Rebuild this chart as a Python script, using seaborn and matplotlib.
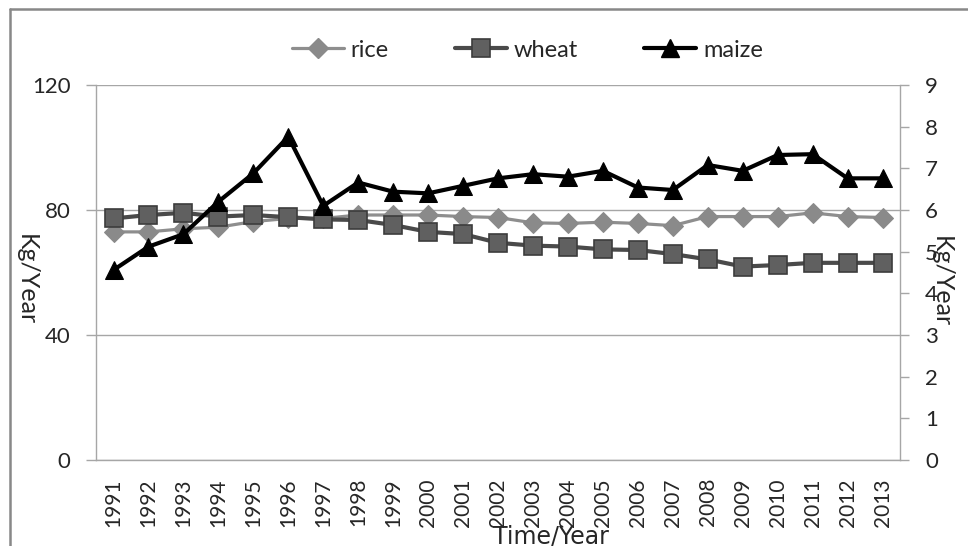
import numpy as np
import pandas as pd
import seaborn as sns
import matplotlib.pyplot as plt
from matplotlib.lines import Line2D

# values (rice, wheat on left axis; maize on right axis)
years = list(range(1991, 2014))
rice = [73, 73, 74, 74.5, 76.3, 77.3, 77.3, 78.4, 78.4, 78.4, 77.9, 77.6,
        75.9, 75.7, 76.1, 75.7, 75, 77.9, 77.9, 77.9, 79.1, 77.9, 77.6]
wheat = [77.3, 78.4, 79.1, 77.9, 78.4, 77.7, 77, 76.8, 75.2, 73, 72.3, 69.5,
         68.6, 68.3, 67.4, 67.2, 65.9, 64.2, 61.9, 62.4, 63.1, 63.1, 63.1]
maize = [4.56, 5.12, 5.42, 6.2, 6.88, 7.76, 6.1, 6.66, 6.44, 6.4, 6.58, 6.76,
         6.86, 6.8, 6.94, 6.54, 6.48, 7.08, 6.94, 7.32, 7.34, 6.76, 6.76]
left_ticks = [0, 40, 80, 120]
right_ticks = list(range(0, 10))

df = pd.DataFrame({'year': years, 'rice': rice, 'wheat': wheat, 'maize': maize})

sns.set_style('white')
plt.rcParams['font.family'] = ['Lato', 'DejaVu Sans']

grey = '#a6a6a6'
fig = plt.figure(figsize=(9.68, 5.46), dpi=100)
ax = fig.add_axes([0.0992, 0.1575, 0.8306, 0.6868])

rice_style = dict(color='#8e8e8e', linewidth=2.3, marker='D', markersize=10.5,
                  markerfacecolor='#8a8a8a', markeredgecolor='#8a8a8a')
wheat_style = dict(color='#4a4a4a', linewidth=3, marker='s', markersize=13,
                   markerfacecolor='#606060', markeredgecolor='#3c3c3c', markeredgewidth=1.2)
maize_style = dict(color='black', linewidth=3, marker='^', markersize=13.5,
                   markerfacecolor='black', markeredgecolor='black')

sns.lineplot(data=df, x='year', y='rice', ax=ax, **rice_style)
sns.lineplot(data=df, x='year', y='wheat', ax=ax, **wheat_style)

ax2 = ax.twinx()
sns.lineplot(data=df, x='year', y='maize', ax=ax2, **maize_style)

# left axis
ax.set_ylim(0, 120)
ax.set_yticks(left_ticks)
ax.set_xlim(years[0] - 0.5, years[-1] + 0.5)
ax.set_xticks(years)
ax.set_xticklabels([str(y) for y in years], rotation=90)
ax.set_xticks(np.arange(years[0] - 0.5, years[-1] + 1), minor=True)
ax.tick_params(axis='x', which='major', length=0, pad=13, labelsize=15)
ax.tick_params(axis='x', which='minor', length=6, width=1, color=grey, direction='out')
ax.tick_params(axis='y', length=7, width=1, color=grey, direction='out', pad=11.5, labelsize=16)
ax.grid(axis='y', color=grey, linewidth=1)
ax.set_xlabel('')
ax.set_ylabel('')
for s in ['top', 'right']:
    ax.spines[s].set_visible(False)
for s in ['left', 'bottom']:
    ax.spines[s].set_color(grey)
    ax.spines[s].set_linewidth(1)

# right axis
ax2.set_ylim(0, 9)
ax2.set_yticks(right_ticks)
ax2.tick_params(axis='y', length=6.5, width=1, color=grey, direction='out', pad=11.5, labelsize=16)
ax2.set_ylabel('')
for s in ['top', 'left', 'bottom']:
    ax2.spines[s].set_visible(False)
ax2.spines['right'].set_color(grey)
ax2.spines['right'].set_linewidth(1)

# legend
handles = [Line2D([], [], **rice_style), Line2D([], [], **wheat_style), Line2D([], [], **maize_style)]
fig.legend(handles, ['rice', 'wheat', 'maize'], ncol=3, loc='center',
           bbox_to_anchor=(0.545, 0.908), frameon=False, fontsize=17,
           handlelength=2.2, handletextpad=0.3, columnspacing=2.8)

# axis titles
fig.text(26 / 968, 1 - 280 / 546, 'Kg/Year', rotation=270, ha='center', va='center', fontsize=18)
fig.text(941 / 968, 1 - 282 / 546, 'Kg/Year', rotation=270, ha='center', va='center', fontsize=18)
fig.text(551 / 968, 1 - 525 / 546, 'Time/Year', ha='center', va='top', fontsize=17, family='DejaVu Sans')

# chart frame (top and left edges)
fig.add_artist(Line2D([10 / 968, 1], [1 - 9 / 546, 1 - 9 / 546], transform=fig.transFigure, color='#888888', linewidth=1.8))
fig.add_artist(Line2D([10 / 968, 10 / 968], [0, 1 - 9 / 546], transform=fig.transFigure, color='#888888', linewidth=1.8))

fig.savefig('out.png', dpi=100)
